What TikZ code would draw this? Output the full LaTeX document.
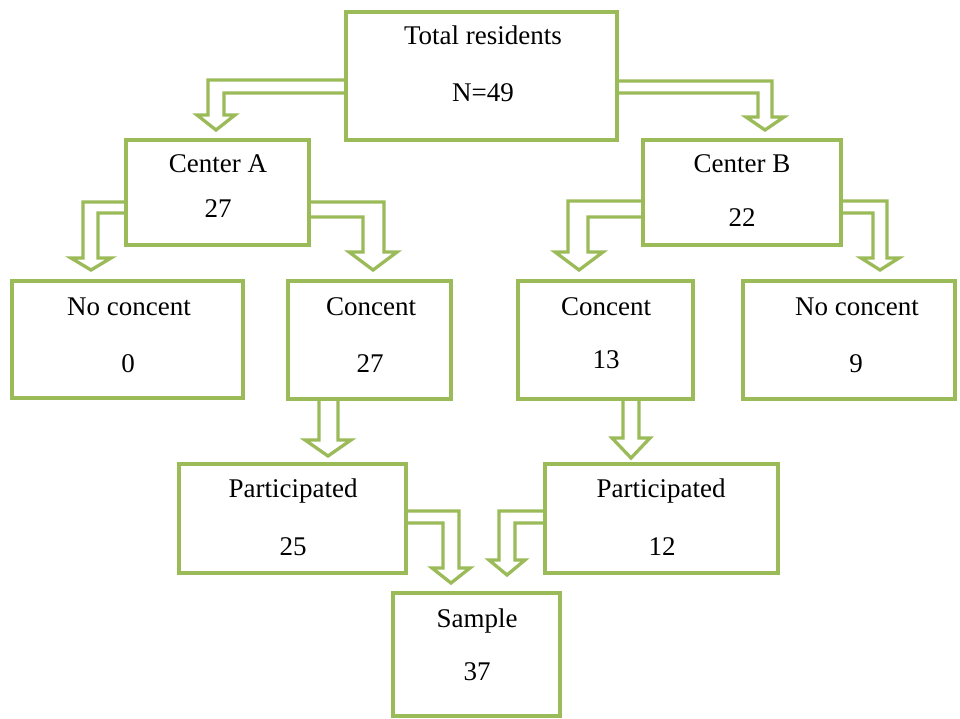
\documentclass[tikz,border=0pt]{standalone}
\usepackage{fontspec}
\setmainfont{Liberation Serif}
\usetikzlibrary{backgrounds}
\definecolor{boxgreen}{RGB}{155,187,89}
\tikzset{
  box/.style={draw=boxgreen, line width=4pt, fill=white, rectangle, inner sep=0pt, outer sep=0pt},
  txt/.style={anchor=base, inner sep=0pt, font=\fontsize{27}{32}\selectfont, text=black},
  barrow/.style={draw=boxgreen, line width=3.3pt, fill=white, line join=miter}
}
\begin{document}
\begin{tikzpicture}[x=1pt,y=-1pt]
\useasboundingbox (0,0) rectangle (960,719);
% boxes
\node[box, minimum width=271pt, minimum height=128pt] (total) at (481.5,76) {};
\node[box, minimum width=183pt, minimum height=105pt] (centerA) at (217.5,192.5) {};
\node[box, minimum width=198pt, minimum height=105pt] (centerB) at (742,192.5) {};
\node[box, minimum width=231pt, minimum height=117pt] (noA) at (127.5,339.5) {};
\node[box, minimum width=163pt, minimum height=118pt] (conA) at (369.5,340) {};
\node[box, minimum width=175pt, minimum height=118pt] (conB) at (605.5,340) {};
\node[box, minimum width=212pt, minimum height=118pt] (noB) at (849,340) {};
\node[box, minimum width=227pt, minimum height=109pt] (partA) at (292.5,518.5) {};
\node[box, minimum width=233pt, minimum height=109pt] (partB) at (661.5,518.5) {};
\node[box, minimum width=167pt, minimum height=123pt] (sample) at (476.5,654.5) {};
% texts
\node[txt] (totalT) at (483,45) {Total residents};
\node[txt] (totalN) at (483,102) {N=49};
\node[txt] (cAT) at (218,173) {Center A};
\node[txt] (cAN) at (218,218) {27};
\node[txt] (cBT) at (742,173) {Center B};
\node[txt] (cBN) at (742,227) {22};
\node[txt] (noAT) at (129,315) {No concent};
\node[txt] (noAN) at (128,372) {0};
\node[txt] (conAT) at (371,315) {Concent};
\node[txt] (conAN) at (370,372) {27};
\node[txt] (conBT) at (606,315) {Concent};
\node[txt] (conBN) at (606,368) {13};
\node[txt] (noBT) at (857,315) {No concent};
\node[txt] (noBN) at (856,372) {9};
\node[txt] (pAT) at (293,497) {Participated};
\node[txt] (pAN) at (293,555) {25};
\node[txt] (pBT) at (661,497) {Participated};
\node[txt] (pBN) at (662,555) {12};
\node[txt] (sT) at (477,627) {Sample};
\node[txt] (sN) at (477,680) {37};
% block arrows
\begin{scope}[on background layer]
% total -> centerA
\draw[barrow] (total.west |- 0,80) -- (208,80) -- (208,115) -- (197,115) -- (216,130) -- (235,115) -- (224,115) -- (224,93) -- (total.west |- 0,93);
% total -> centerB
\draw[barrow] (total.east |- 0,81) -- (772,81) -- (772,117) -- (784,117) -- (765,130) -- (746,117) -- (758,117) -- (758,93) -- (total.east |- 0,93);
% centerA -> noA
\draw[barrow] (centerA.west |- 0,202) -- (83,202) -- (83,258) -- (71,258) -- (91,270) -- (111,258) -- (98,258) -- (98,213) -- (centerA.west |- 0,213);
% centerA -> conA
\draw[barrow] (centerA.east |- 0,202) -- (384,202) -- (384,252) -- (397,252) -- (373,270) -- (349,252) -- (363,252) -- (363,217) -- (centerA.east |- 0,217);
% centerB -> conB
\draw[barrow] (centerB.west |- 0,201) -- (568,201) -- (568,252) -- (555,252) -- (579,270) -- (603,252) -- (588,252) -- (588,217) -- (centerB.west |- 0,217);
% centerB -> noB
\draw[barrow] (centerB.east |- 0,201) -- (887,201) -- (887,258) -- (899,258) -- (880,270) -- (861,258) -- (873,258) -- (873,213) -- (centerB.east |- 0,213);
% conA -> partA
\draw[barrow] (319,399) -- (319,440) -- (305,440) -- (328,456) -- (351,440) -- (338,440) -- (338,399);
% conB -> partB
\draw[barrow] (623,400) -- (623,438) -- (612,438) -- (631,458) -- (650,438) -- (639,438) -- (639,400);
% partA -> sample
\draw[barrow] (partA.east |- 0,511) -- (459,511) -- (459,568) -- (470,568) -- (451,583) -- (432,568) -- (443,568) -- (443,523) -- (partA.east |- 0,523);
% partB -> sample
\draw[barrow] (partB.west |- 0,511) -- (499,511) -- (499,560) -- (489,560) -- (507,575) -- (525,560) -- (515,560) -- (515,523) -- (partB.west |- 0,523);
\end{scope}
\end{tikzpicture}
\end{document}
